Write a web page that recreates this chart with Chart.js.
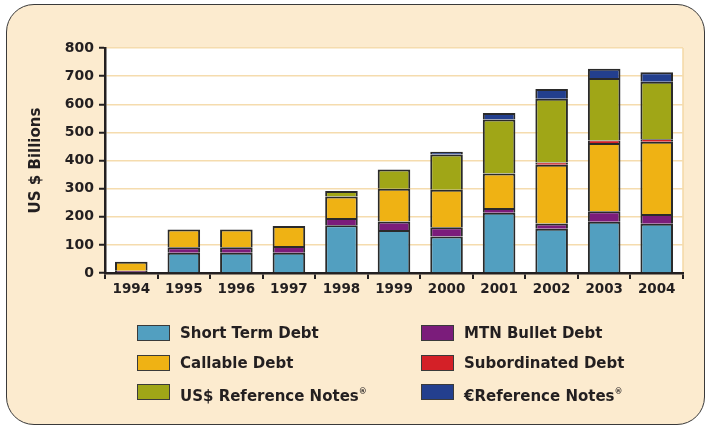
<!DOCTYPE html>
<html>
<head>
<meta charset="utf-8">
<script src="https://cdn.jsdelivr.net/npm/chart.js@4.4.1/dist/chart.umd.min.js"></script>
<style>
  html, body { margin: 0; padding: 0; background: #ffffff; }
  #wrap { position: relative; width: 706px; height: 427px; overflow: hidden; background: #ffffff; }
  #panel2 { position: absolute; left: 6px; top: 4px; width: 699px; height: 421px; background: #fcebcf;
           border: 1.5px solid #3a3a3a; border-radius: 28px; box-sizing: border-box; }
  canvas { position: absolute; left: 0; top: 0; }
  .leg { position: absolute; font-family: 'DejaVu Sans', sans-serif; font-weight: bold; font-size: 15px; color: #231f20; white-space: nowrap; }
  .box { position: absolute; width: 33px; height: 16px; box-sizing: border-box; border: 1.5px solid #3a3a3a; }
  .leg sup { font-size: 8px; vertical-align: 7px; }
</style>
</head>
<body>
<div id="wrap">
  <div id="panel2"></div>
  <canvas id="c" width="706" height="427"></canvas>
  <div id="legend"></div>
</div>
<script>
const categories = ['1994','1995','1996','1997','1998','1999','2000','2001','2002','2003','2004'];
const shortTermDebt    = [null, 72, 72, 72, 170, 153, 130, 214, 157, 182, 175];
const mtnBulletDebt    = [8, 20, 20, 24, 26, 30, 33, 17, 19, 38, 35];
const callableDebt     = [32, 63, 63, 71, 76, 117, 133, 123, 209, 242, 257];
const subordinatedDebt = [null, null, null, null, null, null, null, null, 8, 9, 9];
const usdReferenceNotes  = [null, null, null, null, 20, 68, 125, 192, 227, 222, 204];
const euroReferenceNotes = [null, null, null, null, null, null, 10, 23, 34, 33, 34];
const yTicks = [0, 100, 200, 300, 400, 500, 600, 700, 800];

const seriesNames = ['Short Term Debt', 'MTN Bullet Debt', 'Callable Debt', 'Subordinated Debt', 'US$ Reference Notes', '€Reference Notes'];
const seriesData = [shortTermDebt, mtnBulletDebt, callableDebt, subordinatedDebt, usdReferenceNotes, euroReferenceNotes];
const seriesColors = ['#529fc0', '#7b1c7b', '#efb214', '#d42027', '#a0a617', '#233f8e'];

const FONT = "'DejaVu Sans', sans-serif";
const INK = '#231f20';

const plotBg = {
  id: 'plotBg',
  beforeDraw(chart) {
    const {ctx, chartArea: a} = chart;
    ctx.save();
    ctx.fillStyle = '#ffffff';
    ctx.fillRect(a.left, a.top, a.right - a.left, a.bottom - a.top);
    ctx.strokeStyle = '#f5d9a6';
    ctx.lineWidth = 1.5;
    ctx.beginPath();
    ctx.moveTo(a.right, a.top);
    ctx.lineTo(a.right, a.bottom);
    ctx.stroke();
    ctx.restore();
  }
};

new Chart(document.getElementById('c'), {
  type: 'bar',
  data: {
    labels: categories,
    datasets: seriesNames.map((n, i) => ({
      label: n,
      data: seriesData[i],
      backgroundColor: seriesColors[i],
      borderColor: '#2a2a2a',
      borderWidth: i === 3 ? { top: 0.8, left: 2, right: 2, bottom: 0 } : 2,
      borderSkipped: 'start',
      categoryPercentage: 1.0,
      barPercentage: 0.62
    }))
  },
  options: {
    responsive: false,
    animation: false,
    devicePixelRatio: 1,
    layout: { padding: { left: 0, top: 48, right: 23, bottom: 0 } },
    plugins: { legend: { display: false }, tooltip: { enabled: false } },
    scales: {
      x: {
        stacked: true,
        afterFit(s) { s.height = 154; },
        grid: { offset: true, drawOnChartArea: false, color: INK, lineWidth: 2, tickLength: 6 },
        border: { color: INK, width: 2.5 },
        ticks: { color: INK, font: { family: FONT, weight: 'bold', size: 13.5 }, padding: 2, maxRotation: 0 }
      },
      y: {
        stacked: true,
        min: 0, max: 800,
        afterFit(s) { s.width = 105; },
        afterBuildTicks(s) { s.ticks = yTicks.map(v => ({ value: v })); },
        grid: { color: '#f5dcae', lineWidth: 1.5, tickColor: INK, tickWidth: 2, tickLength: 6 },
        border: { color: INK, width: 2.5 },
        ticks: { color: INK, font: { family: FONT, weight: 'bold', size: 14 }, padding: 5 },
        title: { display: true, text: 'US $ Billions', color: INK, font: { family: FONT, weight: 'bold', size: 15 }, padding: { top: 27, bottom: 0 } }
      }
    }
  },
  plugins: [plotBg]
});

// HTML legend (2 columns x 3 rows)
const legendOrder = [
  [0, 137, 333], [1, 421, 333],
  [2, 137, 362.5], [3, 421, 362.5],
  [4, 137, 391.5], [5, 421, 391.5]
];
const legendHtml = {
  0: 'Short Term Debt', 1: 'MTN Bullet Debt', 2: 'Callable Debt', 3: 'Subordinated Debt',
  4: 'US$ Reference Notes<sup>®</sup>', 5: '€Reference Notes<sup>®</sup>'
};
const lg = document.getElementById('legend');
legendOrder.forEach(([i, x, cy]) => {
  const b = document.createElement('div');
  b.className = 'box';
  b.style.left = x + 'px';
  b.style.top = (cy - 8) + 'px';
  b.style.background = seriesColors[i];
  lg.appendChild(b);
  const t = document.createElement('div');
  t.className = 'leg';
  t.style.left = (x + 43) + 'px';
  t.style.top = (cy - 10) + 'px';
  t.style.lineHeight = '20px';
  t.innerHTML = legendHtml[i];
  lg.appendChild(t);
});
</script>
</body>
</html>
